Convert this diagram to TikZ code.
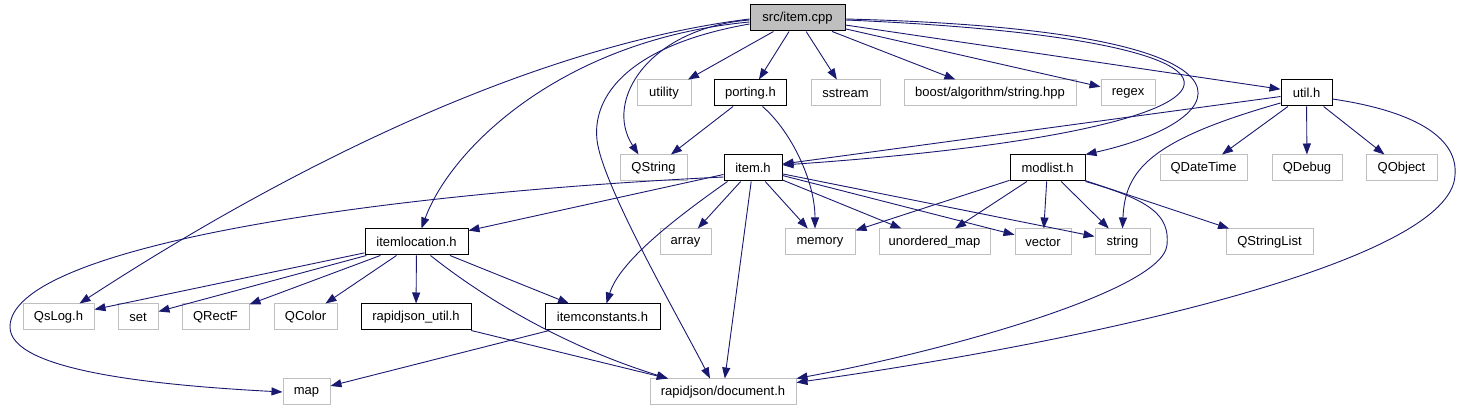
\documentclass[tikz,border=0pt]{standalone}
\usepackage{fontspec}
\setmainfont{Liberation Sans}
\usepackage{xcolor}
\usepackage{tikz}
\usetikzlibrary{arrows.meta}
\definecolor{edge}{RGB}{25,25,112}
\definecolor{grey75}{RGB}{191,191,191}

\begin{document}
\begin{tikzpicture}[x=1pt, y=-1pt, font=\fontsize{13}{15}\selectfont]
  \tikzstyle{sysbox}=[rectangle,draw=grey75,line width=1pt,minimum height=26pt,inner sep=0pt]
  \tikzstyle{hdrbox}=[rectangle,draw=black,line width=1pt,minimum height=26pt,inner sep=0pt]
  \tikzstyle{srcbox}=[hdrbox,fill=grey75]
  \tikzstyle{arr}=[-{Triangle[length=11pt,width=8pt]},color=edge,line width=0.9pt]
  \useasboundingbox (0,0) rectangle (1460,411);
  % row 1
  \node[srcbox,minimum width=95pt](cpp) at (797.5,18){src/item.cpp};
  % row 2
  \node[sysbox,minimum width=54pt](utility) at (664,93){utility};
  \node[hdrbox,minimum width=72pt](porting) at (750.5,93){porting.h};
  \node[sysbox,minimum width=69pt](sstream) at (845.5,93){sstream};
  \node[sysbox,minimum width=172pt](boost) at (990,93){boost/algorithm/string.hpp};
  \node[sysbox,minimum width=54pt](regex) at (1128,93){regex};
  \node[hdrbox,minimum width=51pt](util) at (1306.5,93){util.h};
  % row 3
  \node[sysbox,minimum width=67pt](qstring) at (653.5,168){QString};
  \node[hdrbox,minimum width=58pt](item) at (753,168){item.h};
  \node[hdrbox,minimum width=75pt](modlist) at (1047.5,168){modlist.h};
  \node[sysbox,minimum width=87pt](qdatetime) at (1203.5,168){QDateTime};
  \node[sysbox,minimum width=70pt](qdebug) at (1307,168){QDebug};
  \node[sysbox,minimum width=71pt](qobject) at (1401.5,168){QObject};
  % row 4
  \node[hdrbox,minimum width=103pt](itemloc) at (416.5,242){itemlocation.h};
  \node[sysbox,minimum width=51pt](array) at (685.5,242){array};
  \node[sysbox,minimum width=70pt](memory) at (820,242){memory};
  \node[sysbox,minimum width=111pt](umap) at (934.5,242){unordered\_map};
  \node[sysbox,minimum width=56pt](vector) at (1043,242){vector};
  \node[sysbox,minimum width=55pt](string) at (1122.5,242){string};
  \node[sysbox,minimum width=87pt](qstrlist) at (1269.5,242){QStringList};
  % row 5
  \node[sysbox,minimum width=71pt](qslog) at (58.5,317){QsLog.h};
  \node[sysbox,minimum width=40pt](set) at (138,317){set};
  \node[sysbox,minimum width=67pt](qrectf) at (215.5,317){QRectF};
  \node[sysbox,minimum width=63pt](qcolor) at (305.5,317){QColor};
  \node[hdrbox,minimum width=110pt](rjutil) at (416,317){rapidjson\_util.h};
  \node[hdrbox,minimum width=115pt](itemconst) at (602.5,317){itemconstants.h};
  % row 6
  \node[sysbox,minimum width=47pt](map) at (306.5,392){map};
  \node[sysbox,minimum width=146pt](rjdoc) at (723,392){rapidjson/document.h};

  % src/item.cpp
  \draw[arr](cpp)--(utility); \draw[arr](cpp)--(porting); \draw[arr](cpp)--(sstream);
  \draw[arr](cpp)--(boost); \draw[arr](cpp)--(regex); \draw[arr](cpp)--(util);
  \draw[arr]([yshift=-2pt]cpp.west) .. controls (650,28) and (603,100) .. ([xshift=-15pt]qstring.north);
  \draw[arr]([yshift=-6pt]cpp.west) .. controls (630,45) and (592,95) .. (597,140)
    .. controls (602,185) and (680,320) .. ([xshift=-13pt]rjdoc.north);
  \draw[arr]([yshift=-4pt]cpp.west) .. controls (560,40) and (450,150) .. ([xshift=5pt]itemloc.north);
  \draw[arr]([yshift=-1pt]cpp.west) .. controls (540,45) and (300,160) .. ([xshift=21pt]qslog.north);
  \draw[arr]([yshift=-2pt]cpp.east) .. controls (1320,40) and (1290,130) .. ([yshift=3pt]item.east);
  \draw[arr]([yshift=-1pt]cpp.east) .. controls (1290,30) and (1240,120) .. (modlist.north east);
  % porting.h
  \draw[arr](porting)--(qstring);
  \draw[arr]([xshift=12pt]porting.south) .. controls (790,130) and (815,180) .. ([xshift=-5pt]memory.north);
  % util.h
  \draw[arr](util)--(item); \draw[arr](util)--(qdatetime);
  \draw[arr](util)--(qdebug); \draw[arr](util)--(qobject);
  \draw[arr]([yshift=-10pt]util.west) .. controls (1150,140) and (1125,170) .. (string.north);
  \draw[arr]([yshift=-6pt]util.east) .. controls (1420,112) and (1458,140) .. (1455,175)
    .. controls (1452,260) and (1100,340) .. ([yshift=-4pt]rjdoc.north east);
  % item.h
  \draw[arr](item)--(itemloc); \draw[arr](item)--(array); \draw[arr](item)--(rjdoc);
  \draw[arr](item)--(memory); \draw[arr](item)--(umap);
  \draw[arr](item)--(vector); \draw[arr](item)--(string);
  \draw[arr]([yshift=-9pt]item.west) .. controls (350,195) and (10,250) .. (10,327)
    .. controls (10,370) and (150,385) .. (map.west);
  \draw[arr]([xshift=4pt]item.south west) .. controls (680,215) and (620,260) .. ([xshift=4pt]itemconst.north);
  % modlist.h
  \draw[arr](modlist)--(memory); \draw[arr](modlist)--(umap); \draw[arr](modlist)--(vector);
  \draw[arr](modlist)--(string); \draw[arr](modlist)--(qstrlist);
  \draw[arr](modlist.south east) .. controls (1150,200) and (1170,215) .. (1167,245)
    .. controls (1163,290) and (950,350) .. (rjdoc.north east);
  % itemlocation.h
  \draw[arr](itemloc)--(qslog); \draw[arr](itemloc)--(set); \draw[arr](itemloc)--(qrectf);
  \draw[arr](itemloc)--(qcolor); \draw[arr](itemloc)--(rjutil); \draw[arr](itemloc)--(itemconst);
  \draw[arr]([xshift=14pt]itemloc.south) .. controls (480,295) and (560,345) .. ([xshift=-55pt]rjdoc.north);
  % the rest
  \draw[arr](rjutil)--(rjdoc); \draw[arr](itemconst)--(map);
\end{tikzpicture}
\end{document}
